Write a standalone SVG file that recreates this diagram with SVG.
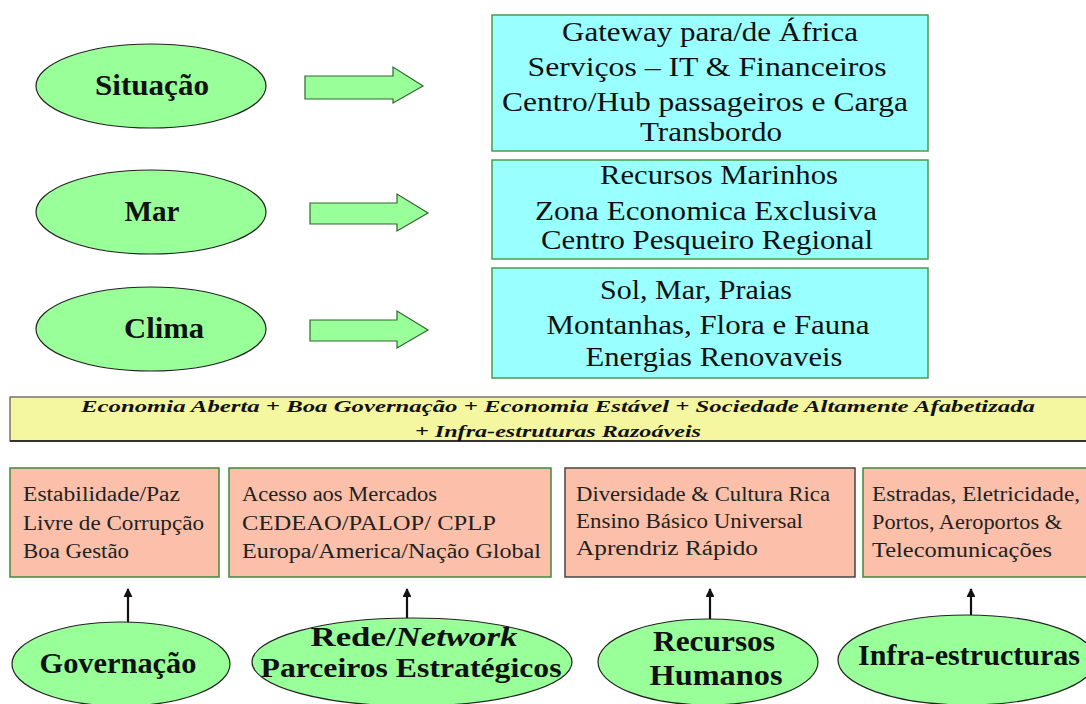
<svg xmlns="http://www.w3.org/2000/svg" width="1086" height="704" viewBox="0 0 1086 704">
<defs>
<style>
.ell{fill:#99ff99;stroke:#222;stroke-width:1.2}
.cyan{fill:#99ffff;stroke:#4c9a4c;stroke-width:1.5}
.pink{fill:#fcc0aa;stroke:#3c8a3c;stroke-width:1.5}
.pinkd{fill:#fcc0aa;stroke:#444;stroke-width:1.5}
.big{font-family:"Liberation Serif",serif;font-size:28px;fill:#111;text-anchor:middle}
.sm{font-family:"Liberation Serif",serif;font-size:20px;fill:#222}
.lbl{font-family:"Liberation Serif",serif;font-size:30px;font-weight:bold;fill:#111;text-anchor:middle}
.lbl2{font-family:"Liberation Serif",serif;font-size:27px;font-weight:bold;fill:#111;text-anchor:middle}
.band{font-family:"Liberation Serif",serif;font-size:17px;font-weight:bold;font-style:italic;fill:#111;text-anchor:middle}
.bar{fill:#99ff99;stroke:#336633;stroke-width:1.2}
.conn{stroke:#111;stroke-width:2.2;fill:none}
</style>
<marker id="ah" viewBox="0 0 10 10" refX="9" refY="5" markerWidth="4" markerHeight="4" orient="auto" markerUnits="strokeWidth">
<path d="M0,0 L10,5 L0,10 z" fill="#111"/>
</marker>
</defs>
<rect width="1086" height="704" fill="#ffffff"/>

<g id="situacao"><ellipse class="ell" cx="151" cy="86" rx="115" ry="42"/><text class="lbl" x="152" y="95" textLength="114" lengthAdjust="spacingAndGlyphs">Situação</text></g>
<g id="mar"><ellipse class="ell" cx="151" cy="212" rx="115" ry="42"/><text class="lbl" x="152" y="221" textLength="55" lengthAdjust="spacingAndGlyphs">Mar</text></g>
<g id="clima"><ellipse class="ell" cx="151" cy="329" rx="115" ry="42"/><text class="lbl" x="164" y="338" textLength="80" lengthAdjust="spacingAndGlyphs">Clima</text></g>

<g id="arrow1"><path class="bar" d="M305,76 L393,76 L393,67 L423,86 L393,103 L393,99 L305,99 Z"/></g>
<g id="arrow2"><path class="bar" d="M310,203 L397,203 L397,194 L428,213 L397,231 L397,224 L310,224 Z"/></g>
<g id="arrow3"><path class="bar" d="M310,320 L397,320 L397,311 L428,330 L397,348 L397,341 L310,341 Z"/></g>

<g id="box-situacao"><rect class="cyan" x="492" y="15" width="436" height="136"/>
<text class="big" x="710" y="41" textLength="296" lengthAdjust="spacingAndGlyphs">Gateway para/de África</text>
<text class="big" x="707" y="76" textLength="359" lengthAdjust="spacingAndGlyphs">Serviços –  IT &amp; Financeiros</text>
<text class="big" x="705" y="111" textLength="406" lengthAdjust="spacingAndGlyphs">Centro/Hub passageiros e Carga</text>
<text class="big" x="711" y="141" textLength="142" lengthAdjust="spacingAndGlyphs">Transbordo</text></g>
<g id="box-mar"><rect class="cyan" x="492" y="160" width="436" height="99"/>
<text class="big" x="719" y="184" textLength="238" lengthAdjust="spacingAndGlyphs">Recursos Marinhos</text>
<text class="big" x="706" y="220" textLength="342" lengthAdjust="spacingAndGlyphs">Zona Economica Exclusiva</text>
<text class="big" x="707" y="249" textLength="332" lengthAdjust="spacingAndGlyphs">Centro Pesqueiro Regional</text></g>
<g id="box-clima"><rect class="cyan" x="492" y="268" width="436" height="110"/>
<text class="big" x="696" y="299" textLength="192" lengthAdjust="spacingAndGlyphs">Sol, Mar, Praias</text>
<text class="big" x="708" y="334" textLength="323" lengthAdjust="spacingAndGlyphs">Montanhas, Flora e Fauna</text>
<text class="big" x="714" y="366" textLength="257" lengthAdjust="spacingAndGlyphs">Energias Renovaveis</text></g>

<g id="band"><rect x="10" y="397" width="1090" height="44" fill="#f4f6a0" stroke="#555" stroke-width="1.2"/>
<line x1="10" y1="441" x2="1086" y2="441" stroke="#333" stroke-width="2"/>
<text class="band" x="558" y="412" textLength="954" lengthAdjust="spacingAndGlyphs">Economia Aberta + Boa Governação + Economia Estável + Sociedade Altamente Afabetizada</text>
<text class="band" x="558" y="437" textLength="286" lengthAdjust="spacingAndGlyphs">+ Infra-estruturas Razoáveis</text></g>

<g id="box-gov"><rect class="pink" x="10" y="468" width="209" height="109"/>
<text class="sm" x="23" y="501" textLength="157" lengthAdjust="spacingAndGlyphs">Estabilidade/Paz</text>
<text class="sm" x="23" y="530" textLength="181" lengthAdjust="spacingAndGlyphs">Livre de Corrupção</text>
<text class="sm" x="23" y="558" textLength="106" lengthAdjust="spacingAndGlyphs">Boa Gestão</text></g>
<g id="box-rede"><rect class="pink" x="229" y="468" width="322" height="109"/>
<text class="sm" x="242" y="501" textLength="195" lengthAdjust="spacingAndGlyphs">Acesso aos Mercados</text>
<text class="sm" x="242" y="530" textLength="254" lengthAdjust="spacingAndGlyphs">CEDEAO/PALOP/ CPLP</text>
<text class="sm" x="242" y="558" textLength="299" lengthAdjust="spacingAndGlyphs">Europa/America/Nação Global</text></g>
<g id="box-rh"><rect class="pinkd" x="565" y="468" width="290" height="109"/>
<text class="sm" x="576" y="501" textLength="254" lengthAdjust="spacingAndGlyphs">Diversidade &amp; Cultura Rica</text>
<text class="sm" x="576" y="528" textLength="227" lengthAdjust="spacingAndGlyphs">Ensino Básico Universal</text>
<text class="sm" x="576" y="555" textLength="182" lengthAdjust="spacingAndGlyphs">Aprendriz Rápido</text></g>
<g id="box-infra"><rect class="pink" x="863" y="468" width="240" height="109"/>
<text class="sm" x="872" y="501" textLength="208" lengthAdjust="spacingAndGlyphs">Estradas, Eletricidade,</text>
<text class="sm" x="872" y="529" textLength="190" lengthAdjust="spacingAndGlyphs">Portos, Aeroportos &amp;</text>
<text class="sm" x="872" y="557" textLength="180" lengthAdjust="spacingAndGlyphs">Telecomunicações</text></g>

<g id="connectors">
<line class="conn" x1="128" y1="624" x2="128" y2="589" marker-end="url(#ah)"/>
<line class="conn" x1="407" y1="619" x2="407" y2="589" marker-end="url(#ah)"/>
<line class="conn" x1="710" y1="620" x2="710" y2="589" marker-end="url(#ah)"/>
<line class="conn" x1="971" y1="615" x2="971" y2="589" marker-end="url(#ah)"/>
</g>

<g id="governacao"><ellipse class="ell" cx="121" cy="664" rx="109" ry="42"/><text class="lbl" x="118" y="673" textLength="157" lengthAdjust="spacingAndGlyphs">Governação</text></g>
<g id="rede"><ellipse class="ell" cx="412" cy="662" rx="160" ry="44"/>
<text class="lbl2" x="414" y="646" textLength="207" lengthAdjust="spacingAndGlyphs">Rede/<tspan font-style="italic">Network</tspan></text>
<text class="lbl2" x="411" y="677" textLength="301" lengthAdjust="spacingAndGlyphs">Parceiros Estratégicos</text></g>
<g id="recursos"><ellipse class="ell" cx="708" cy="662" rx="110" ry="43"/>
<text class="lbl" x="714" y="651" textLength="122" lengthAdjust="spacingAndGlyphs">Recursos</text>
<text class="lbl" x="716" y="685" textLength="133" lengthAdjust="spacingAndGlyphs">Humanos</text></g>
<g id="infra"><ellipse class="ell" cx="967" cy="660" rx="129" ry="45"/>
<text class="lbl" x="969" y="665" textLength="222" lengthAdjust="spacingAndGlyphs">Infra-estructuras</text></g>
</svg>
